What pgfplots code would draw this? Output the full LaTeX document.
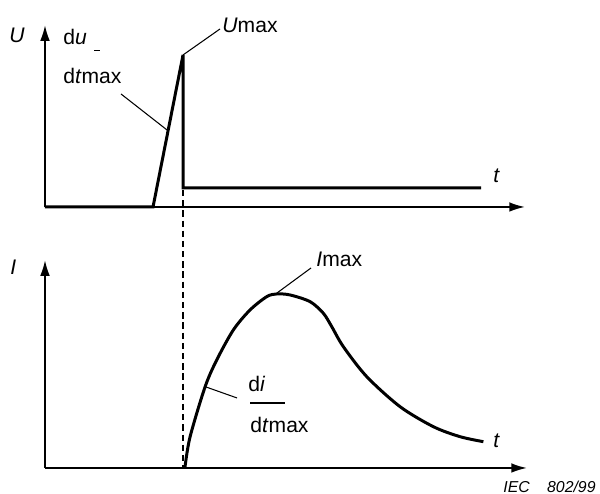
\documentclass[border=0pt]{standalone}
\usepackage{fontspec}
\setmainfont{Liberation Sans}
\usepackage{pgfplots}
\pgfplotsset{compat=1.18}
\usetikzlibrary{arrows.meta}

% one unit = one pixel of the 600 x 494 reference
\pgfplotsset{
  sketch/.style={
    x=0.02cm, y=0.02cm,
    anchor=south west,
    axis lines=left,
    axis line style={line width=1.1pt, -{Latex[length=9pt,width=5.5pt]}},
    xtick=\empty, ytick=\empty,
    clip=false,
    every axis plot/.append style={line width=1.7pt, black, no markers},
  },
}
\tikzset{lbl/.style={font=\fontsize{12}{14}\selectfont, inner sep=0pt, anchor=west}}

\begin{document}
\begin{tikzpicture}
\useasboundingbox (0,0) rectangle (12,9.88);

% ---- voltage ----
\begin{axis}[sketch, at={(0.9cm,5.74cm)}, xmin=45, xmax=525, ymin=287, ymax=469]
\addplot[sharp plot] coordinates {
  (45,287) (153,287) (183,439) (183,306) (481,306)
};
\draw[line width=0.6pt] (axis cs:183,439) -- (axis cs:220,465);
\draw[line width=0.6pt] (axis cs:121,400) -- (axis cs:167,364);
\draw[line width=0.6pt] (axis cs:94,443) -- (axis cs:100,443);
\node[lbl] at (axis cs:9,459) {\itshape U};
\node[lbl] at (axis cs:63,457) {d\textit{u}};
\node[lbl] at (axis cs:63,418) {d\textit{t}max};
\node[lbl] at (axis cs:222,469) {\textit{U}max};
\node[lbl] at (axis cs:493,318) {\itshape t};
\end{axis}

% ---- current ----
\begin{axis}[sketch, at={(0.9cm,0.52cm)}, xmin=45, xmax=527, ymin=26, ymax=234]
\addplot[smooth, tension=0.5] coordinates {
  (185,27) (190,57) (205,107) (216.7,134) (233.3,164) (250,184)
  (266.7,197.3) (276.7,200) (290,199) (310,192.3) (323.3,180.7)
  (331.7,167.3) (343.3,147.3) (366.7,117.3) (400,87.3) (433.3,67.3)
  (460,57.3) (483.3,52.3)
};
\addplot[line width=0.8pt, dash pattern=on 3.6pt off 2.2pt] coordinates {
  (183,304) (183,27)
};
\draw[line width=0.6pt] (axis cs:277,201) -- (axis cs:311,226);
\draw[line width=0.6pt] (axis cs:206,107) -- (axis cs:237,96);
\draw[line width=0.6pt] (axis cs:250,91) -- (axis cs:285,91);
\node[lbl] at (axis cs:10,227) {\itshape I};
\node[lbl] at (axis cs:316,235) {\textit{I}max};
\node[lbl] at (axis cs:248,110) {d\textit{i}};
\node[lbl] at (axis cs:250,69) {d\textit{t}max};
\node[lbl] at (axis cs:493,53) {\itshape t};
\node[font=\fontsize{9}{11}\selectfont\itshape, inner sep=0pt, anchor=west]
  at (axis cs:503,7) {IEC\hspace{1.1em}802/99};
\end{axis}
\end{tikzpicture}
\end{document}
